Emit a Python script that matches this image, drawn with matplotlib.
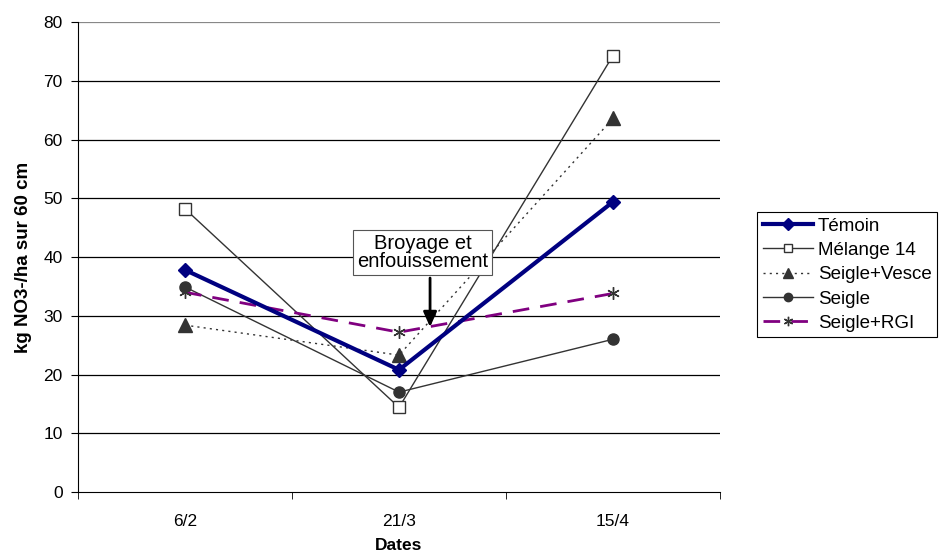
import matplotlib
matplotlib.use("Agg")
import matplotlib.pyplot as plt

plt.rcParams['font.family'] = ['Liberation Sans', 'DejaVu Sans']

dates = ["6/2", "21/3", "15/4"]
temoin = [37.8, 20.8, 49.4]
melange14 = [48.2, 14.4, 74.3]
seigle_vesce = [28.4, 23.3, 63.6]
seigle = [34.9, 17.0, 26.0]
seigle_rgi = [34.0, 27.2, 33.8]
y_ticks = [0, 10, 20, 30, 40, 50, 60, 70, 80]

fig = plt.figure(figsize=(9.39, 5.56), dpi=100)
ax = fig.add_axes([0.0831, 0.1151, 0.6837, 0.8453])
x = list(range(len(dates)))

ax.plot(x, temoin, color='#000080', lw=3, marker='D', ms=7.5, label='Témoin', zorder=6)
ax.plot(x, melange14, color='#333333', lw=1, marker='s', ms=8.5, mfc='white', mec='#333333',
        label='Mélange 14', zorder=5)
ax.plot(x, seigle_vesce, color='#333333', lw=1, ls=(0, (1.5, 3)), marker='^', ms=9.5,
        label='Seigle+Vesce', zorder=5)
ax.plot(x, seigle, color='#333333', lw=1, marker='o', ms=8, label='Seigle', zorder=5)
ax.plot(x, seigle_rgi, color='#800080', lw=2, ls=(0, (6, 4)), marker=(6, 2, 0), ms=9,
        mec='#333333', mew=1, label='Seigle+RGI', zorder=5)

ax.set_xlim(-0.5, 2.5)
ax.set_ylim(0, 80)
ax.set_yticks(y_ticks)
ax.set_xticks(x)
ax.set_xticklabels(dates)
ax.set_xticks([-0.5, 0.5, 1.5, 2.5], minor=True)
ax.tick_params(axis='x', which='major', length=0, pad=16, labelsize=12.5)
ax.tick_params(axis='x', which='minor', length=5, direction='out', color='black')
ax.tick_params(axis='y', length=5, direction='out', labelsize=12.5, pad=6)
for yv in y_ticks[1:-1]:
    ax.axhline(yv, color='black', lw=0.9, zorder=1)
ax.axhline(80, color='#888888', lw=0.9, zorder=1)
for s in ['top', 'right']:
    ax.spines[s].set_visible(False)
ax.spines['left'].set_color('black')
ax.spines['bottom'].set_color('black')

ax.set_ylabel('kg NO3-/ha sur 60 cm', fontweight='bold', fontsize=13.5, labelpad=8)
ax.set_xlabel('Dates', fontweight='bold', fontsize=12.5, labelpad=6)

ax.annotate('', xy=(1.145, 27.6), xytext=(1.145, 36.9),
            arrowprops=dict(arrowstyle='-|>,head_length=0.9,head_width=0.4', color='black', lw=2),
            zorder=7)
ax.text(1.11, 40.8, 'Broyage et\nenfouissement', ha='center', va='center', fontsize=14.5,
        linespacing=0.95,
        bbox=dict(boxstyle='square,pad=0.2', fc='white', ec='#555555', lw=0.8), zorder=8)

leg = ax.legend(loc='upper left', bbox_to_anchor=(1.0576, 0.5957), fontsize=13.5,
                frameon=True, fancybox=False, edgecolor='black', framealpha=1,
                handlelength=2.7, borderpad=0.3, labelspacing=0.38, handletextpad=0.25,
                borderaxespad=0, markerscale=0.75)
leg.get_frame().set_linewidth(0.8)

fig.savefig('out.png', dpi=100)
